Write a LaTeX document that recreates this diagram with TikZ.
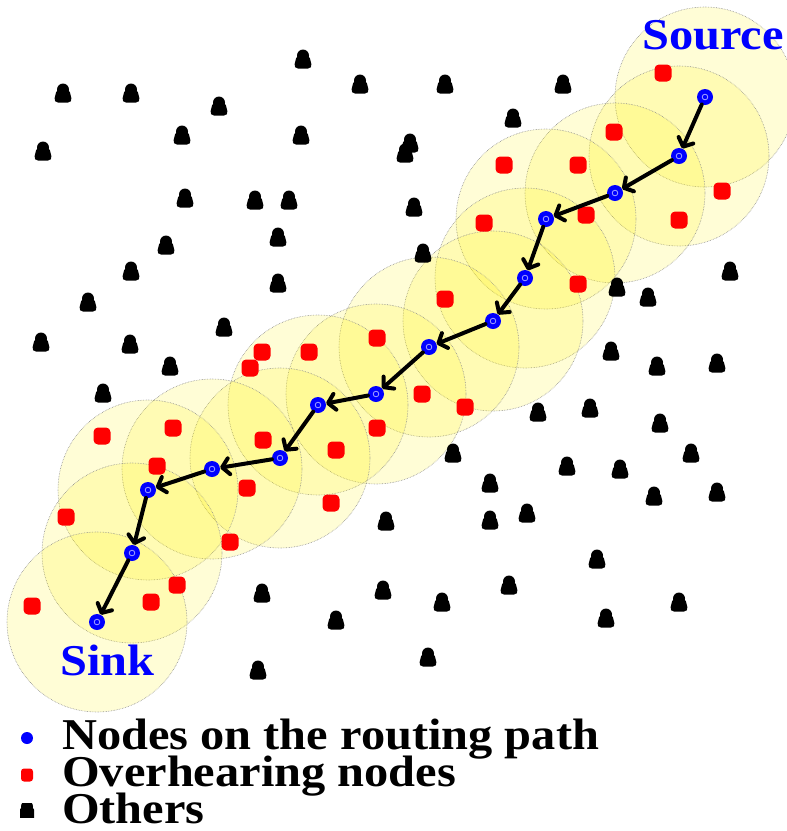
\documentclass[tikz,border=0pt]{standalone}
\usepackage{fontspec}
\setmainfont{Liberation Serif}
\newfontfamily\labfont[FakeStretch=1.1]{Liberation Serif}
\usetikzlibrary{shapes.geometric,arrows.meta}
\newcommand\pawnshape[1]{%
  \fill[shift={(path picture bounding box.center)}, scale=#1] (0,-3.5) circle (6);
  \fill[shift={(path picture bounding box.center)}, scale=#1, rounded corners=4.5pt] (-5.81,-4.98) -- (5.81,-4.98) -- (9.5,9.5) -- (-9.5,9.5) -- cycle;}
\tikzset{
  radiorange/.style={circle, inner sep=0pt, minimum size=180pt, fill=yellow, fill opacity=0.16, draw=black!45, densely dotted, line width=0.6pt},
  routenode/.style={circle, inner sep=0pt, minimum size=16pt, fill=blue, path picture={\draw[blue!35!white, line width=0.8pt] (path picture bounding box.center) circle (2.8pt);}},
  overnode/.style={rectangle, inner sep=0pt, minimum size=17pt, rounded corners=4.5pt, fill=red},
  othernode/.style={rectangle, inner sep=0pt, minimum width=20pt, minimum height=20pt, path picture={\pawnshape{1}}},
  route/.style={line width=4pt, line cap=round, -{Straight Barb[length=7pt,width=16pt,round]}},
  lab/.style={font=\labfont\bfseries\fontsize{44}{44}\selectfont, inner sep=0pt},
  legtext/.style={font=\labfont\bfseries\fontsize{44}{36.5}\selectfont, inner sep=0pt, align=left},
  legblue/.style={circle, inner sep=0pt, minimum size=12pt, fill=blue},
  legred/.style={rectangle, inner sep=0pt, minimum width=12pt, minimum height=13pt, rounded corners=3pt, fill=red},
  legother/.style={rectangle, inner sep=0pt, minimum width=14pt, minimum height=14pt, path picture={\pawnshape{0.7}}}
}
\begin{document}
\begin{tikzpicture}[x=1pt,y=-1pt]
\useasboundingbox (0,0) rectangle (787,831);
\def\routelist{705/97, 679/156, 615/193, 546/219, 525/278, 493/321, 429/347, 376/394, 318/405, 280/458, 212/469, 148/490, 132/553, 97/622}
% ranges
\foreach \x/\y [count=\i] in \routelist { \node[radiorange] (c\i) at (\x,\y) {}; }
% other nodes
\foreach \x/\y [count=\i] in {303/59, 63/93, 131/93, 219/106, 360/84, 445/84, 563/84, 513/118, 182/135, 301/135, 410/143, 405/153, 43/151, 185/198, 255/200, 289/200, 414/207, 166/245, 278/237, 131/271, 278/283, 423/253, 730/271, 617/287, 648/297, 88/302, 224/327, 41/342, 130/344, 170/366, 103/393, 611/351, 657/366, 717/363, 538/412, 590/408, 660/423, 691/453, 453/453, 567/466, 620/469, 654/496, 717/492, 490/483, 386/521, 490/520, 527/513, 597/559, 262/593, 383/590, 442/602, 509/585, 679/602, 336/620, 606/618, 428/657, 258/670}
  { \node[othernode] (k\i) at (\x,\y) {}; }
% overhearing nodes
\foreach \x/\y [count=\i] in {663/73, 614/132, 504/165, 578/165, 722/191, 679/220, 586/215, 484/223, 578/284, 445/299, 377/338, 262/352, 309/352, 250/368, 422/394, 465/407, 377/428, 102/436, 173/428, 263/440, 157/466, 336/450, 247/488, 331/503, 66/517, 230/542, 177/585, 151/602, 32/606}
  { \node[overnode] (r\i) at (\x,\y) {}; }
% routing nodes
\foreach \x/\y [count=\i] in \routelist { \node[routenode] (b\i) at (\x,\y) {}; }
\foreach \i [evaluate=\i as \j using {int(\i+1)}] in {1,...,13} { \draw[route] (b\i) -- (b\j); }
% labels
\node[lab, text=blue, anchor=base east] (src) at (784,49) {Source};
\node[lab, text=blue, anchor=base west] (snk) at (60,675) {Sink};
% legend
\node[legblue] (lb) at (27,738) {};
\node[legred] (lr) at (27,775) {};
\node[legother] (lk) at (27,810) {};
\node[legtext, anchor=base west] (lt) at (62,823) {Nodes on the routing path\\[-4.5pt]Overhearing nodes\\[-4.5pt]Others};
\end{tikzpicture}
\end{document}
